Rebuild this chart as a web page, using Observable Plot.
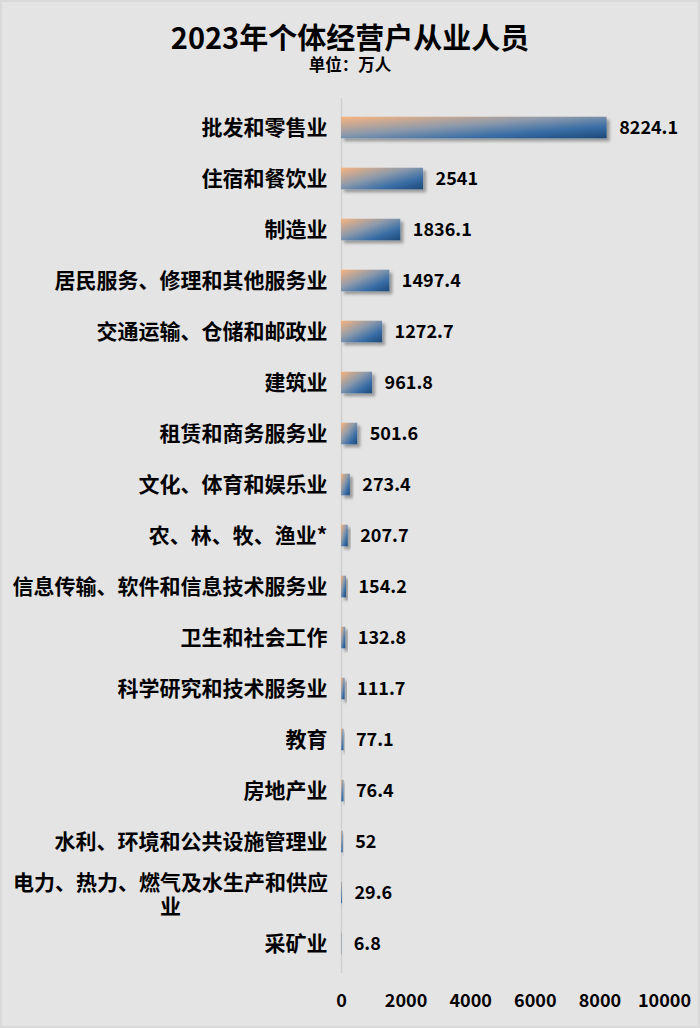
<!DOCTYPE html>
<html>
<head>
<meta charset="utf-8">
<script src="https://cdn.jsdelivr.net/npm/d3@7"></script>
<script src="https://cdn.jsdelivr.net/npm/@observablehq/plot@0.6"></script>
<style>
  html, body { margin: 0; padding: 0; background: #e4e4e4; }
  #wrap { position: relative; width: 700px; height: 1028px; background: #e4e4e4;
          box-shadow: inset 0 0 0 2px #d9d9d9; overflow: hidden;
          font-family: "Noto Sans CJK SC", sans-serif; color: #000; }
  #title { position: absolute; left: 0; width: 700px; top: 20px; height: 32px; line-height: 32px;
           text-align: center; font-size: 29px; font-weight: 700; }
  #subtitle { position: absolute; left: 0; width: 700px; top: 55px; height: 18px; line-height: 18px;
              text-align: center; font-size: 16.5px; font-weight: 700; }
  #chart { position: absolute; left: 0; top: 80px; }
</style>
</head>
<body>
<div id="wrap">
  <div id="title">2023年个体经营户从业人员</div>
  <div id="subtitle">单位：万人</div>
  <div id="chart"></div>
</div>
<script>
const categories = [
  "批发和零售业",
  "住宿和餐饮业",
  "制造业",
  "居民服务、修理和其他服务业",
  "交通运输、仓储和邮政业",
  "建筑业",
  "租赁和商务服务业",
  "文化、体育和娱乐业",
  "农、林、牧、渔业*",
  "信息传输、软件和信息技术服务业",
  "卫生和社会工作",
  "科学研究和技术服务业",
  "教育",
  "房地产业",
  "水利、环境和公共设施管理业",
  "电力、热力、燃气及水生产和供应业",
  "采矿业"
];
const values = [8224.1, 2541, 1836.1, 1497.4, 1272.7, 961.8, 501.6, 273.4, 207.7, 154.2, 132.8, 111.7, 77.1, 76.4, 52, 29.6, 6.8];
const xTicks = [0, 2000, 4000, 6000, 8000, 10000];
const wrappedCategory = "电力、热力、燃气及水生产和供应业";
const wrappedLabel = "电力、热力、燃气及水生产和供应\n业";

const data = categories.map((c, i) => ({category: c, value: values[i]}));

const chart = Plot.plot({
  width: 700,
  height: 948,
  marginLeft: 341,
  marginRight: 36,
  marginTop: 18,
  marginBottom: 55,
  style: {background: "transparent", fontFamily: "'Noto Sans CJK SC', sans-serif", color: "#000"},
  x: {domain: [0, 10000]},
  y: {domain: categories, padding: 0, axis: null},
  marks: [
    Plot.ruleX([0], {stroke: "#cfcfcf", strokeWidth: 1.5}),
    Plot.barX(data, {x: "value", y: "category", fill: "url(#barGrad)", insetTop: 14.7, insetBottom: 14.7}),
    Plot.text(data, {x: "value", y: "category", text: d => String(d.value), dx: 12, textAnchor: "start",
      fontSize: 18, fontWeight: 700, fill: "#000"}),
    Plot.text(data.filter(d => d.category !== wrappedCategory), {y: "category", text: "category",
      frameAnchor: "left", dx: -14, textAnchor: "end", fontSize: 21, fontWeight: 700, fill: "#000"}),
    Plot.text(data.filter(d => d.category === wrappedCategory), {y: "category", text: () => wrappedLabel,
      frameAnchor: "left", dx: -171, dy: 1, textAnchor: "middle", lineHeight: 1.15, fontSize: 21, fontWeight: 700, fill: "#000"}),
    Plot.axisX({ticks: xTicks, tickSize: 0, tickPadding: 21, tickFormat: d => String(d), fontSize: 18, fontWeight: 700, fill: "#000", label: null})
  ]
});

const svg = d3.select(chart);
const defs = svg.insert("defs", ":first-child");
const grad = defs.append("linearGradient").attr("id", "barGrad")
  .attr("x1", 0).attr("y1", 0).attr("x2", 1).attr("y2", 1);
grad.append("stop").attr("offset", "0").attr("stop-color", "#f7b47f");
grad.append("stop").attr("offset", "0.42").attr("stop-color", "#8d9aab");
grad.append("stop").attr("offset", "0.72").attr("stop-color", "#3a6ea6");
grad.append("stop").attr("offset", "1").attr("stop-color", "#1b4878");
const f = defs.append("filter").attr("id", "shadow").attr("x", "-20%").attr("y", "-50%").attr("width", "160%").attr("height", "220%");
f.append("feDropShadow").attr("dx", 3).attr("dy", 3).attr("stdDeviation", 1.8)
  .attr("flood-color", "#000").attr("flood-opacity", 0.33);
svg.selectAll("g[aria-label='bar'] rect").attr("filter", "url(#shadow)");

document.getElementById("chart").appendChild(chart);
</script>
</body>
</html>
